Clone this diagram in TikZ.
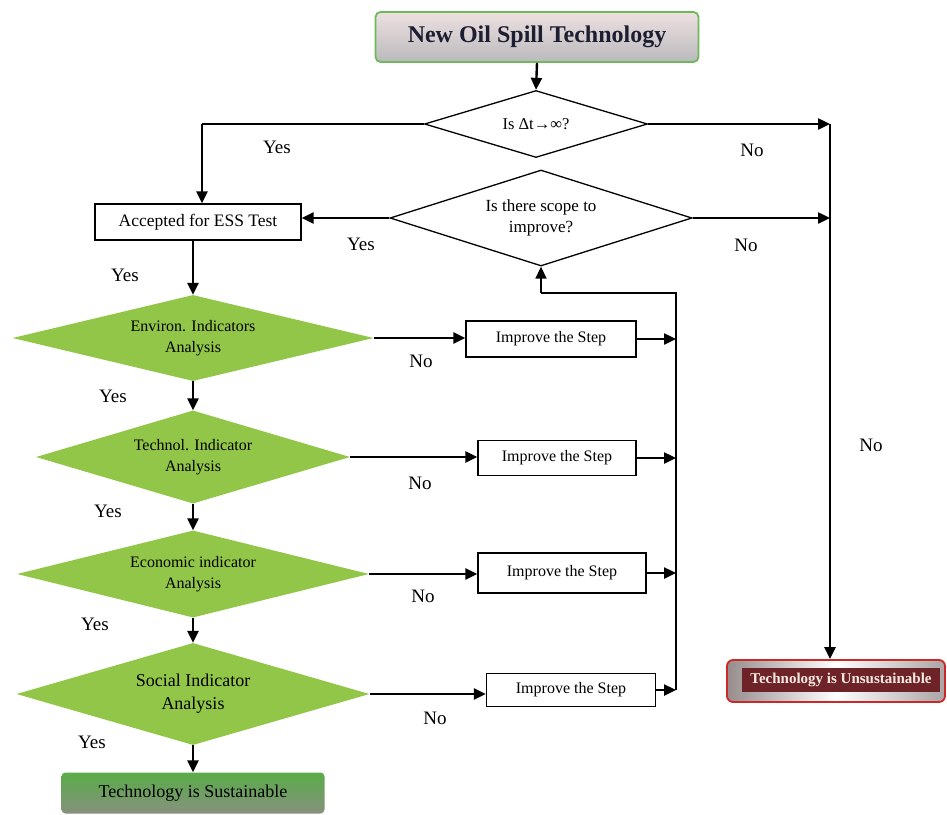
\documentclass[tikz,border=0pt]{standalone}
\usepackage{fontspec}
\setmainfont{Liberation Serif}
\usetikzlibrary{shapes.geometric,arrows.meta}
\definecolor{leaf}{RGB}{146,198,72}
\definecolor{titleborder}{RGB}{110,185,90}
\definecolor{maroon}{RGB}{110,35,40}
\definecolor{redborder}{RGB}{205,40,40}
\definecolor{sustgreen}{RGB}{88,172,72}
\tikzset{
  conn/.style={line width=2.4pt, -{Triangle[length=12pt,width=11pt]}},
  line/.style={line width=2.4pt},
  thinline/.style={line width=1.5pt},
  greendia/.style={diamond, fill=leaf, inner sep=0pt, align=center, font=\fontsize{16}{21}\selectfont},
  whitedia/.style={diamond, draw=black, line width=1.3pt, fill=white, inner sep=0pt, align=center, font=\fontsize{16.5}{20}\selectfont},
  stepbox/.style={rectangle, draw=black, line width=1.3pt, fill=white, align=center, font=\fontsize{16}{18}\selectfont},
  lbl/.style={font=\fontsize{19}{20}\selectfont, inner sep=0pt},
}
\begin{document}
\begin{tikzpicture}[x=1pt,y=-1pt]
\useasboundingbox (0,0) rectangle (947,814);

% Title
\node[rectangle, rounded corners=5pt, draw=titleborder, line width=1.8pt,
  top color={rgb,255:red,238;green,224;blue,224}, bottom color={rgb,255:red,185;green,185;blue,188},
  minimum width=323pt, minimum height=50pt, font=\fontsize{24}{26}\selectfont\bfseries,
  text={rgb,255:red,30;green,30;blue,50}] (title) at (537,37) {New Oil Spill Technology};

% Decision diamonds (white)
\node[whitedia, aspect=3.3, minimum width=223pt, minimum height=67pt] (d1) at (536,124) {Is Δt→∞?};
\node[whitedia, aspect=3.1, minimum width=302pt, minimum height=96pt, font=\fontsize{17}{21}\selectfont] (d2) at (541,218) {Is there scope to\\improve?};

% Accepted box
\node[stepbox, minimum width=206pt, minimum height=36pt, font=\fontsize{17.5}{19}\selectfont] (acc) at (198,222) {Accepted for ESS Test};

% Green diamonds
\node[greendia, aspect=4.2, minimum width=361pt, minimum height=86pt] (env) at (193,338) {Environ. Indicators\\Analysis};
\node[greendia, aspect=3.4, minimum width=314pt, minimum height=93pt] (tec) at (193,457) {Technol. Indicator\\Analysis};
\node[greendia, aspect=4.0, minimum width=352pt, minimum height=87pt] (eco) at (193,574) {Economic indicator\\Analysis};
\node[greendia, aspect=3.5, minimum width=353pt, minimum height=102pt, font=\fontsize{18}{23}\selectfont] (soc) at (193,694) {Social Indicator\\Analysis};

% Improve boxes
\node[stepbox, minimum width=170pt, minimum height=36pt] (i1) at (551,339) {Improve the Step};
\node[stepbox, minimum width=158pt, minimum height=35pt] (i2) at (557,458) {Improve the Step};
\node[stepbox, minimum width=168pt, minimum height=40pt] (i3) at (562,573) {Improve the Step};
\node[stepbox, minimum width=169pt, minimum height=33pt] (i4) at (571,690) {Improve the Step};

% Outcomes
\node[rectangle, rounded corners=4pt, top color=sustgreen, bottom color={rgb,255:red,135;green,145;blue,125},
  minimum width=263pt, minimum height=41pt, font=\fontsize{18}{20}\selectfont] (sust) at (193,793) {Technology is Sustainable};
\node[rectangle, rounded corners=6pt, draw=redborder, line width=1.8pt,
  left color={rgb,255:red,150;green,140;blue,140}, right color={rgb,255:red,170;green,165;blue,165}, middle color=white,
  minimum width=218pt, minimum height=42pt] (unsust) at (836,681) {};
\node[rectangle, fill=maroon, minimum width=198pt, minimum height=24pt, inner sep=1pt,
  font=\fontsize{15}{17}\selectfont\bfseries, text={rgb,255:red,245;green,235;blue,225}] (unsustxt) at (841,680) {Technology is Unsustainable};

% Helper coordinates
\coordinate (lc) at (202,124);
\coordinate (r1) at (830,124);
\coordinate (r2) at (830,218);
\coordinate (vtop) at (676,293);
\coordinate (vbot) at (676,690);

% Connectors
\draw[conn] (title.south) -- (d1.north);
\draw[line] (d1.west) -- (lc);
\draw[conn] (lc) -- (lc |- acc.north);
\draw[conn] (d1.east) -- (r1);
\draw[conn] (d2.east) -- (r2);
\draw[conn] (r1) -- (r1 |- unsust.north);
\draw[conn] (d2.west) -- (d2.west -| acc.east);
\draw[conn] (acc.south -| env.north) -- (env.north);
\draw[conn] (env.south) -- (tec.north);
\draw[conn] (tec.south) -- (eco.north);
\draw[conn] (eco.south) -- (soc.north);
\draw[conn] (soc.south) -- (sust.north);

\draw[conn] (env.east) -- (env.east -| i1.west);
\draw[conn] (tec.east) -- (tec.east -| i2.west);
\draw[conn] (eco.east) -- (eco.east -| i3.west);
\draw[conn] (soc.east) -- (soc.east -| i4.west);

\draw[conn] (i1.east) -- (i1.east -| vtop);
\draw[conn] (i2.east) -- (i2.east -| vtop);
\draw[conn] (i3.east) -- (i3.east -| vtop);
\draw[conn] (i4.east) -- (i4.east -| vtop);

\draw[thinline] (vbot) -- (vtop) -- (vtop -| d2.south);
\draw[conn, line width=1.5pt] (vtop -| d2.south) -- (d2.south);

% Labels
\node[lbl] (y1) at (277,147) {Yes};
\node[lbl] (n1) at (752,150) {No};
\node[lbl] (y2) at (361,244) {Yes};
\node[lbl] (n2) at (746,245) {No};
\node[lbl] (y3) at (125,275) {Yes};
\node[lbl] (n3) at (421,361) {No};
\node[lbl] (y4) at (113,396) {Yes};
\node[lbl] (n4) at (420,483) {No};
\node[lbl] (y5) at (108,511) {Yes};
\node[lbl] (n5) at (423,596) {No};
\node[lbl] (y6) at (95,624) {Yes};
\node[lbl] (n6) at (435,718) {No};
\node[lbl] (y7) at (92,742) {Yes};
\node[lbl] (n7) at (871,445) {No};
\end{tikzpicture}
\end{document}
